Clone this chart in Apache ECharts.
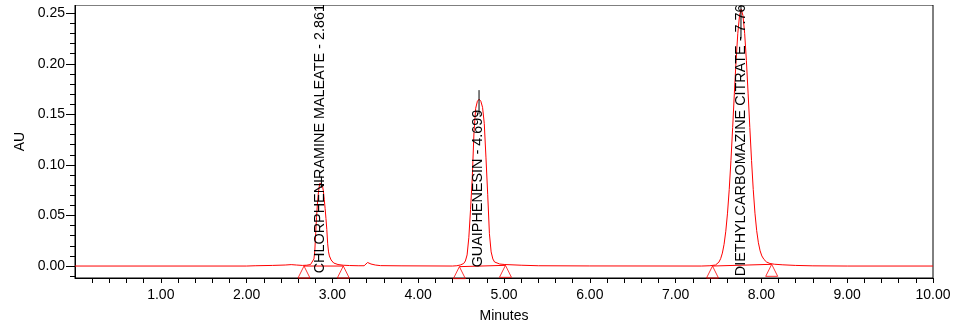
<!DOCTYPE html>
<html>
<head>
<meta charset="utf-8">
<script src="https://cdn.jsdelivr.net/npm/echarts@6/dist/echarts.min.js"></script>
<style>
html,body{margin:0;padding:0;background:#fff;}
#chart{width:974px;height:328px;}
</style>
</head>
<body>
<div id="chart"></div>
<script>
// ---- data ----
const traceTime = [0.00,2.00,2.10,2.30,2.45,2.52,2.58,2.65,
  2.700,2.745,2.765,2.785,2.795,2.805,2.815,2.825,2.835,2.845,2.855,2.865,2.875,2.885,2.895,2.905,2.915,2.925,2.935,2.945,2.955,2.965,2.985,3.015,3.065,3.125,3.20,3.30,3.37,3.41,3.45,3.50,3.56,3.80,4.40,
  4.45,4.49,4.53,4.55,4.57,4.59,4.61,4.63,4.65,4.67,4.69,4.71,4.73,4.75,4.77,4.79,4.81,4.83,4.85,4.87,4.89,4.91,4.95,5.01,5.20,5.40,6.00,7.30,
  7.40,7.465,7.485,7.505,7.525,7.545,7.565,7.585,7.605,7.625,7.645,7.665,7.685,7.705,7.725,7.745,7.765,7.785,7.805,7.825,7.845,7.865,7.885,7.905,7.925,7.945,7.965,7.985,8.005,8.03,8.06,8.10,8.15,8.25,8.40,8.60,9.00,10.00];
const traceAU = [0,0,0.0003,0.0006,0.0010,0.0014,0.0010,0.0006,
  0.0008,0.0015,0.003,0.007,0.015,0.032,0.048,0.061,0.071,0.078,0.082,0.083,0.082,0.079,0.074,0.066,0.057,0.047,0.036,0.022,0.014,0.010,0.006,0.003,0.0015,0.0008,0.0005,0.0003,0.0003,0.0035,0.002,0.001,0.0004,0.0002,0.0000,
  0.0003,0.001,0.0025,0.005,0.011,0.028,0.056,0.087,0.132,0.156,0.163,0.165,0.163,0.157,0.141,0.107,0.071,0.032,0.014,0.007,0.004,0.003,0.002,0.0015,0.0008,0.0003,0.0001,0.0000,
  0.0003,0.001,0.002,0.0039,0.0073,0.0128,0.0215,0.0344,0.0523,0.0757,0.1044,0.137,0.171,0.2034,0.2301,0.2478,0.254,0.2478,0.2301,0.2034,0.171,0.137,0.1044,0.0757,0.0523,0.035,0.023,0.015,0.010,0.0065,0.004,0.0025,0.0018,0.0012,0.0006,0.0002,0.0000,0.0000];

const peakNames = ['CHLORPHENIRAMINE MALEATE - 2.861','GUAIPHENESIN - 4.699','DIETHYLCARBOMAZINE CITRATE - 7.76'];
const peakTimes = [2.861, 4.699, 7.76];
const apexMarkTop = [0.0885, 0.174, 0.258];
const apexMarkBottom = [0.0775, 0.150, 0.225];
const apexMarkTime = [2.872, 4.709, 7.762];

const peakStartTime = [2.669, 4.480, 7.430];
const peakStartAU   = [0.0000, -0.0006, 0.0000];
const peakEndTime   = [3.127, 5.017, 8.120];
const peakEndAU     = [0.0000, 0.0007, 0.0017];

const xLabelValues = [1,2,3,4,5,6,7,8,9,10];
const xTickValues = [0.2,0.4,0.6,0.8,1.0,1.2,1.4,1.6,1.8,2.0,2.2,2.4,2.6,2.8,3.0,3.2,3.4,3.6,3.8,4.0,4.2,4.4,4.6,4.8,5.0,5.2,5.4,5.6,5.8,6.0,6.2,6.4,6.6,6.8,7.0,7.2,7.4,7.6,7.8,8.0,8.2,8.4,8.6,8.8,9.0,9.2,9.4,9.6,9.8,10.0];
const yLabelValues = [0.00,0.05,0.10,0.15,0.20,0.25];
const yMinorTickValues = [-0.01,0.00,0.01,0.02,0.03,0.04,0.05,0.06,0.07,0.08,0.09,0.10,0.11,0.12,0.13,0.14,0.15,0.16,0.17,0.18,0.19,0.20,0.21,0.22,0.23,0.24,0.25];

// ---- chart ----
const FONT = '"Liberation Sans", Arial, sans-serif';
const chart = echarts.init(document.getElementById('chart'), null, {renderer:'canvas'});
const Y_MIN = -0.01183, Y_MAX = 0.2582;

const series = [];
series.push({
  type:'line', data: traceTime.map((t,i)=>[t, traceAU[i]]),
  showSymbol:false, symbol:'none', smooth:false, clip:true,
  lineStyle:{color:'#ff0000', width:1}, z:3, animation:false
});
for (let i=0;i<peakStartTime.length;i++){
  series.push({
    type:'line', data:[[peakStartTime[i],peakStartAU[i]],[peakEndTime[i],peakEndAU[i]]],
    symbol:'none', lineStyle:{color:'#ff0000', width:1}, z:3, animation:false
  });
}
series.push({
  type:'scatter',
  data: peakStartTime.map((t,i)=>[t,peakStartAU[i]]).concat(peakEndTime.map((t,i)=>[t,peakEndAU[i]])),
  symbol:'triangle', symbolSize:[12,12], symbolOffset:[0,6],
  itemStyle:{color:'rgba(0,0,0,0)', borderColor:'#ff0000', borderWidth:1},
  z:4, animation:false, silent:true
});
for (let i=0;i<apexMarkTime.length;i++){
  series.push({
    type:'line', data:[[apexMarkTime[i],apexMarkTop[i]],[apexMarkTime[i],apexMarkBottom[i]]],
    symbol:'none', lineStyle:{color:'#000', width:1}, z:5, animation:false
  });
}

chart.setOption({
  animation:false,
  backgroundColor:'#fff',
  grid:{left:75, right:41, top:5, bottom:49, show:true, borderColor:'#000', borderWidth:1, backgroundColor:'rgba(0,0,0,0)'},
  xAxis:{
    type:'value', min:0, max:10,
    axisLine:{show:true, onZero:false, lineStyle:{color:'#000', width:1}},
    axisTick:{show:true, length:5, customValues:xTickValues, lineStyle:{color:'#000', width:1}},
    axisLabel:{show:true, customValues:xLabelValues, formatter:v=>Number(v).toFixed(2), fontSize:14, color:'#000', fontFamily:FONT, margin:10},
    splitLine:{show:false},
    name:'Minutes', nameLocation:'middle', nameGap:31,
    nameTextStyle:{fontSize:14, color:'#000', fontFamily:FONT}
  },
  yAxis:[{
    type:'value', min:Y_MIN, max:Y_MAX, position:'left',
    axisLine:{show:true, onZero:false, lineStyle:{color:'#000', width:1}},
    axisTick:{show:true, length:9, customValues:yLabelValues, lineStyle:{color:'#000', width:1}},
    axisLabel:{show:true, customValues:yLabelValues, formatter:v=>Number(v).toFixed(2), fontSize:14, color:'#000', fontFamily:FONT, margin:10},
    splitLine:{show:false},
    name:'AU', nameLocation:'middle', nameGap:43, nameRotate:90,
    nameTextStyle:{fontSize:14, color:'#000', fontFamily:FONT}
  },{
    type:'value', min:Y_MIN, max:Y_MAX, position:'left', offset:0,
    axisLine:{show:false},
    axisTick:{show:true, length:5, customValues:yMinorTickValues, lineStyle:{color:'#000', width:1}},
    axisLabel:{show:false},
    splitLine:{show:false}
  }],
  series: series
});

// Peak labels (vertical), positioned via the chart's own coordinate conversion
const labelBottomAU = [-0.0072, -0.0013, -0.0100];
const graphics = [];
for (let i=0;i<peakNames.length;i++){
  const p = chart.convertToPixel({gridIndex:0}, [peakTimes[i], labelBottomAU[i]]);
  graphics.push({
    type:'text', x:p[0], y:p[1], rotation:Math.PI/2, z:10,
    style:{text:peakNames[i], fill:'#000', font:'14.4px ' + FONT, textAlign:'left', textVerticalAlign:'middle', verticalAlign:'middle'}
  });
}
// white strip above the plot frame (labels are clipped at the frame in the reference)
graphics.push({type:'rect', shape:{x:0, y:0, width:974, height:5}, style:{fill:'#fff'}, z:20});
chart.setOption({graphic: graphics});
</script>
</body>
</html>
